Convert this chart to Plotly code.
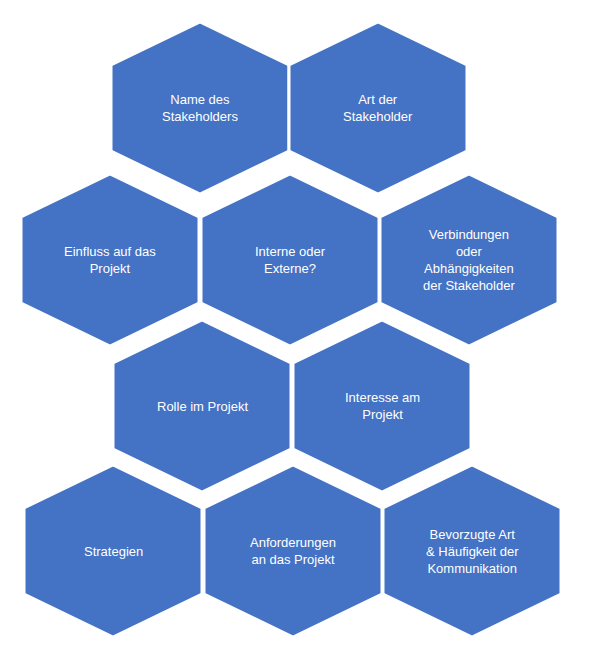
import plotly.graph_objects as go

labels = ["Name des<br>Stakeholders", "Art der<br>Stakeholder",
          "Einfluss auf das<br>Projekt", "Interne oder<br>Externe?",
          "Verbindungen<br>oder<br>Abhängigkeiten<br>der Stakeholder",
          "Rolle im Projekt", "Interesse am<br>Projekt",
          "Strategien", "Anforderungen<br>an das Projekt",
          "Bevorzugte Art<br>& Häufigkeit der<br>Kommunikation"]
cx = [192, 370, 102, 282, 461, 194, 374, 105, 285, 464]
cy = [100, 100, 252, 252, 252, 398, 398, 543, 543, 543]
hw, hh, hs = 89, 86, 43

fig = go.Figure()
for x, y, t in zip(cx, cy, labels):
    xs = [x, x + hw, x + hw, x, x - hw, x - hw, x]
    ys = [y - hh, y - hs, y + hs, y + hh, y + hs, y - hs, y - hh]
    fig.add_trace(go.Scatter(x=xs, y=ys, mode="lines", fill="toself",
                             fillcolor="#4472C4", line=dict(color="white", width=3),
                             hoverinfo="skip", showlegend=False))
    fig.add_annotation(x=x, y=y, text=t, showarrow=False,
                       font=dict(color="white", size=13, family="Liberation Sans"))

fig.update_layout(width=600, height=664, margin=dict(l=0, r=0, t=0, b=0),
                  paper_bgcolor="white", plot_bgcolor="white",
                  xaxis=dict(range=[0, 600], visible=False),
                  yaxis=dict(range=[664, 0], visible=False))
fig.write_html("out.html")
